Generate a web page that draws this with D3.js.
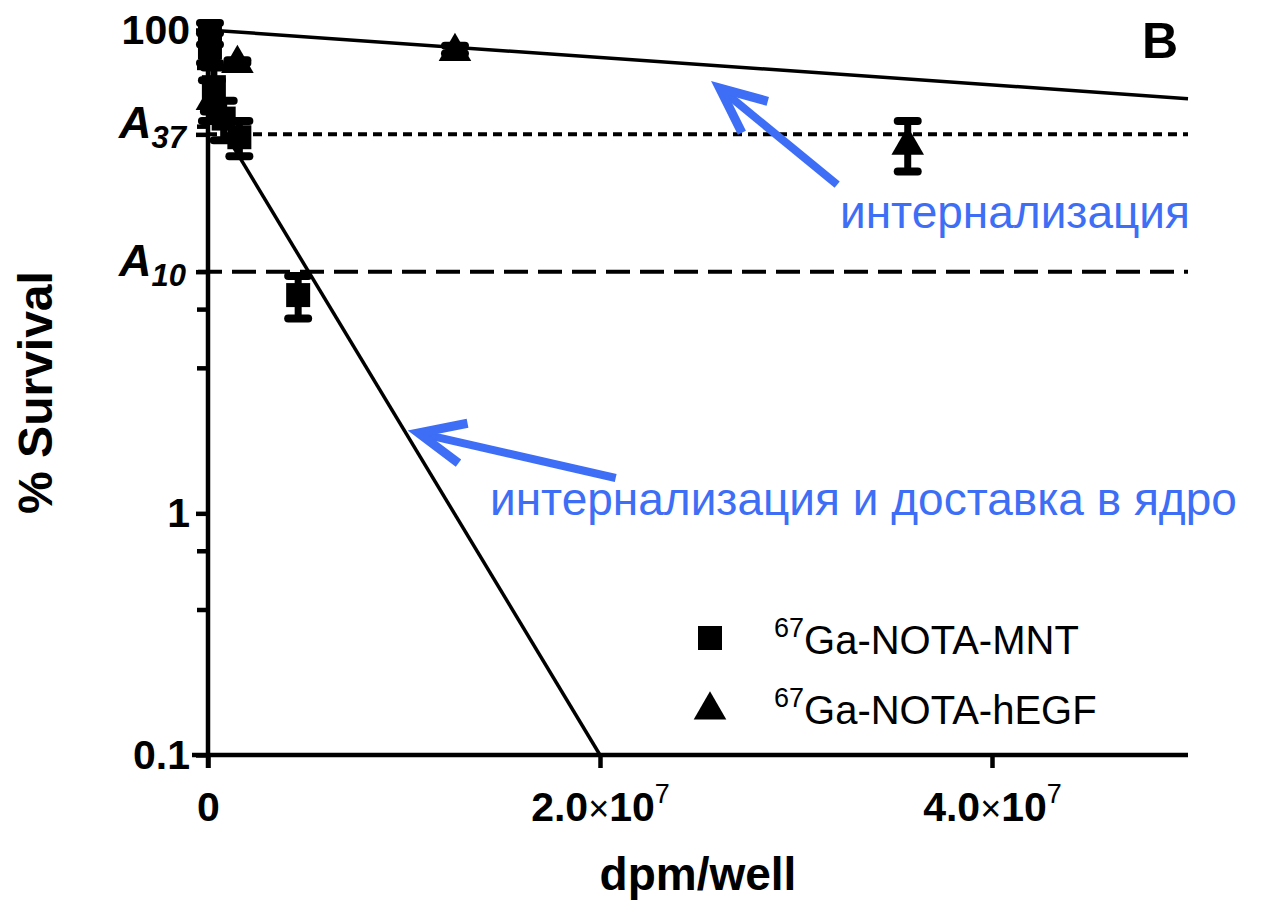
<!DOCTYPE html>
<html>
<head>
<meta charset="utf-8">
<script src="https://cdn.jsdelivr.net/npm/d3@7"></script>
<style>
  body { margin: 0; background: #fff; }
  svg { font-family: "Liberation Sans", Arial, sans-serif; }
</style>
</head>
<body>
<div class="chart"></div>
<script>
// data (dose in dpm/well, survival in %)
const mntDose = [0.01e7, 0.01e7, 0.03e7, 0.08e7, 0.16e7, 0.46e7];
const mntSurvival = [97, 85, 58, 43, 36, 8];
const mntErr = [10, 12, 12, 8, 6, 1.6];

const egfDose = [0.02e7, 0.15e7, 1.26e7, 3.57e7];
const egfSurvival = [52, 74, 83, 34];
const egfErr = [10, 1, 3, 8];

// fitted lines (straight on log y)
const mntFitDose = [0, 2.0e7];
const mntFitSurvival = [49, 0.1];
const egfFitDose = [0, 5.0e7];
const egfFitSurvival = [100, 52];

const refLevels = [37, 10];
const refNames = ["37", "10"];

const yMajor = [0.1, 1, 100];
const yMinor = [0.4, 0.7, 4, 7, 40, 70];
const xTicks = [0, 2.0e7, 4.0e7];

const legendNames = ["Ga-NOTA-MNT", "Ga-NOTA-hEGF"];
const arrowNotes = [
  {label: "интернализация", tip: [2.61e7, 57.5], tail: [3.21e7, 22.9], text: [840, 228]},
  {label: "интернализация и доставка в ядро", tip: [1.074e7, 2.15], tail: [2.08e7, 1.40], text: [490, 515]}
];

const width = 1284, height = 903;
const svg = d3.select(".chart").append("svg")
  .attr("width", width).attr("height", height);

const x = d3.scaleLinear().domain([0, 5e7]).range([208, 1188]);
const y = d3.scaleLog().domain([0.1, 100]).range([755, 30]);

const blue = "#3d6ef5";

//reference lines
svg.append("line")
  .attr("x1", x(0)).attr("x2", x(5e7))
  .attr("y1", y(refLevels[0])).attr("y2", y(refLevels[0]))
  .attr("stroke", "#000").attr("stroke-width", 4)
  .attr("stroke-dasharray", "9,6");
svg.append("line")
  .attr("x1", x(0) - 10).attr("x2", x(5e7))
  .attr("y1", y(refLevels[1])).attr("y2", y(refLevels[1]))
  .attr("stroke", "#000").attr("stroke-width", 4)
  .attr("stroke-dasharray", "24,10");

//fit lines
let line = d3.line().x(d => x(d[0])).y(d => y(d[1]));
svg.append("path")
  .datum(mntFitDose.map((d, i) => [d, mntFitSurvival[i]]))
  .attr("d", line).attr("fill", "none").attr("stroke", "#000").attr("stroke-width", 3.5);
svg.append("path")
  .datum(egfFitDose.map((d, i) => [d, egfFitSurvival[i]]))
  .attr("d", line).attr("fill", "none").attr("stroke", "#000").attr("stroke-width", 3.5);

//axes
const axisG = svg.append("g");
axisG.append("line")
  .attr("x1", x(0)).attr("x2", x(0)).attr("y1", y(100)).attr("y2", y(0.1) + 13)
  .attr("stroke", "#000").attr("stroke-width", 4.5);
axisG.append("line")
  .attr("x1", x(0) - 16).attr("x2", x(5e7)).attr("y1", y(0.1)).attr("y2", y(0.1))
  .attr("stroke", "#000").attr("stroke-width", 4.5);

const yAxis = svg.append("g")
  .attr("transform", "translate(" + x(0) + ",0)")
  .call(d3.axisLeft(y).tickValues(yMajor).tickSize(12).tickPadding(6)
    .tickFormat(d => d === 0.1 ? "0.1" : d3.format("d")(d)));
const yMinorAxis = svg.append("g")
  .attr("transform", "translate(" + x(0) + ",0)")
  .call(d3.axisLeft(y).tickValues(yMinor).tickSize(11).tickFormat(""));
const yRefAxis = svg.append("g")
  .attr("transform", "translate(" + x(0) + ",0)")
  .call(d3.axisLeft(y).tickValues(refLevels).tickSize(12).tickPadding(8).tickFormat(""));

const xAxis = svg.append("g")
  .attr("transform", "translate(0," + y(0.1) + ")")
  .call(d3.axisBottom(x).tickValues(xTicks).tickSize(13).tickFormat(""));

[yAxis, yMinorAxis, yRefAxis, xAxis].forEach(g => {
  g.select(".domain").remove();
  g.selectAll(".tick line").attr("stroke", "#000").attr("stroke-width", 4.5);
});
yAxis.selectAll("text")
  .attr("fill", "#000").attr("font-size", 41).attr("font-weight", "bold")
  .attr("font-family", "Liberation Sans, Arial, sans-serif");

// A37 / A10 labels
yRefAxis.selectAll(".tick").each(function(d, i) {
  let t = d3.select(this).append("text")
    .attr("x", -22).attr("dy", "0.36em").attr("text-anchor", "end")
    .attr("fill", "#000").attr("font-weight", "bold").attr("font-style", "italic")
    .attr("font-family", "Liberation Sans, Arial, sans-serif");
  t.append("tspan").attr("font-size", 45).text("A");
  t.append("tspan").attr("font-size", 31).attr("dy", 10).text(refNames[i]);
});

// x tick labels 2.0x10^7
xAxis.selectAll(".tick").each(function(d) {
  let t = d3.select(this).append("text")
    .attr("y", 66).attr("text-anchor", "middle").attr("fill", "#000")
    .attr("font-family", "Liberation Sans, Arial, sans-serif");
  if (d === 0) {
    t.attr("font-size", 41).attr("font-weight", "bold").text("0");
    return;
  }
  let exp = Math.floor(Math.log10(d));
  let mant = d / Math.pow(10, exp);
  t.append("tspan").attr("font-size", 41).attr("font-weight", "bold").text(mant.toFixed(1));
  t.append("tspan").attr("font-size", 36).text("×");
  t.append("tspan").attr("font-size", 41).attr("font-weight", "bold").text("10");
  t.append("tspan").attr("font-size", 27).attr("dy", -18).text(exp);
});

//error bars
function errorBars(dose, surv, err) {
  const g = svg.append("g");
  dose.forEach((d, i) => {
    let hi = surv[i] + err[i], lo = Math.max(surv[i] - err[i], 0.1);
    g.append("line").attr("x1", x(d)).attr("x2", x(d)).attr("y1", y(hi)).attr("y2", y(lo))
      .attr("stroke", "#000").attr("stroke-width", 7);
    [hi, lo].forEach(v => {
      g.append("line").attr("x1", x(d) - 10).attr("x2", x(d) + 10).attr("y1", y(v)).attr("y2", y(v))
        .attr("stroke", "#000").attr("stroke-width", 8).attr("stroke-linecap", "round");
    });
  });
}
errorBars(mntDose, mntSurvival, mntErr);
errorBars(egfDose, egfSurvival, egfErr);

const square = d3.symbol().type(d3.symbolSquare).size(576);
const triangle = d3.symbol().type(d3.symbolTriangle).size(460);

svg.append("g").selectAll("path")
  .data(mntDose.map((d, i) => [d, mntSurvival[i]]))
  .join("path")
  .attr("d", square)
  .attr("transform", d => "translate(" + x(d[0]) + "," + y(d[1]) + ")")
  .attr("fill", "#000");
svg.append("g").selectAll("path")
  .data(egfDose.map((d, i) => [d, egfSurvival[i]]))
  .join("path")
  .attr("d", triangle)
  .attr("transform", d => "translate(" + x(d[0]) + "," + (y(d[1]) + 2) + ")")
  .attr("fill", "#000");

//axis titles
svg.append("text")
  .attr("transform", "translate(52," + ((y(100) + y(0.1)) / 2) + ") rotate(-90)")
  .attr("text-anchor", "middle").attr("font-size", 48).attr("font-weight", "bold")
  .text("% Survival");
svg.append("text")
  .attr("x", (x(0) + x(5e7)) / 2).attr("y", 890)
  .attr("text-anchor", "middle").attr("font-size", 46).attr("font-weight", "bold")
  .text("dpm/well");
svg.append("text")
  .attr("x", 1160).attr("y", 58).attr("text-anchor", "middle")
  .attr("font-size", 50).attr("font-weight", "bold").text("B");

//legend
const legend = svg.append("g").attr("transform", "translate(710,638)");
legendNames.forEach((name, i) => {
  legend.append("path")
    .attr("d", i === 0 ? square : triangle)
    .attr("transform", "translate(0," + (i * 70 + (i ? 2 : 0)) + ")")
    .attr("fill", "#000");
  let t = legend.append("text").attr("x", 64).attr("y", i * 70 + 16).attr("fill", "#000");
  t.append("tspan").attr("font-size", 27).attr("dy", -17).text("67");
  t.append("tspan").attr("font-size", 40).attr("dy", 17).text(name);
});

//annotations
const notes = svg.append("g");
arrowNotes.forEach(a => {
  let x1 = x(a.tail[0]), y1 = y(a.tail[1]), x2 = x(a.tip[0]), y2 = y(a.tip[1]);
  let ang = Math.atan2(y1 - y2, x1 - x2);
  let len = 50, spread = 0.42;
  notes.append("line").attr("x1", x1).attr("y1", y1).attr("x2", x2 + 4 * Math.cos(ang)).attr("y2", y2 + 4 * Math.sin(ang))
    .attr("stroke", blue).attr("stroke-width", 8);
  notes.append("path")
    .attr("d", "M" + (x2 + len * Math.cos(ang + spread)) + "," + (y2 + len * Math.sin(ang + spread)) +
      "L" + x2 + "," + y2 +
      "L" + (x2 + len * Math.cos(ang - spread)) + "," + (y2 + len * Math.sin(ang - spread)))
    .attr("fill", "none").attr("stroke", blue).attr("stroke-width", 9).attr("stroke-linejoin", "miter");
  notes.append("text").attr("x", a.text[0]).attr("y", a.text[1])
    .attr("fill", blue).attr("font-size", 46).text(a.label);
});
</script>
</body>
</html>
